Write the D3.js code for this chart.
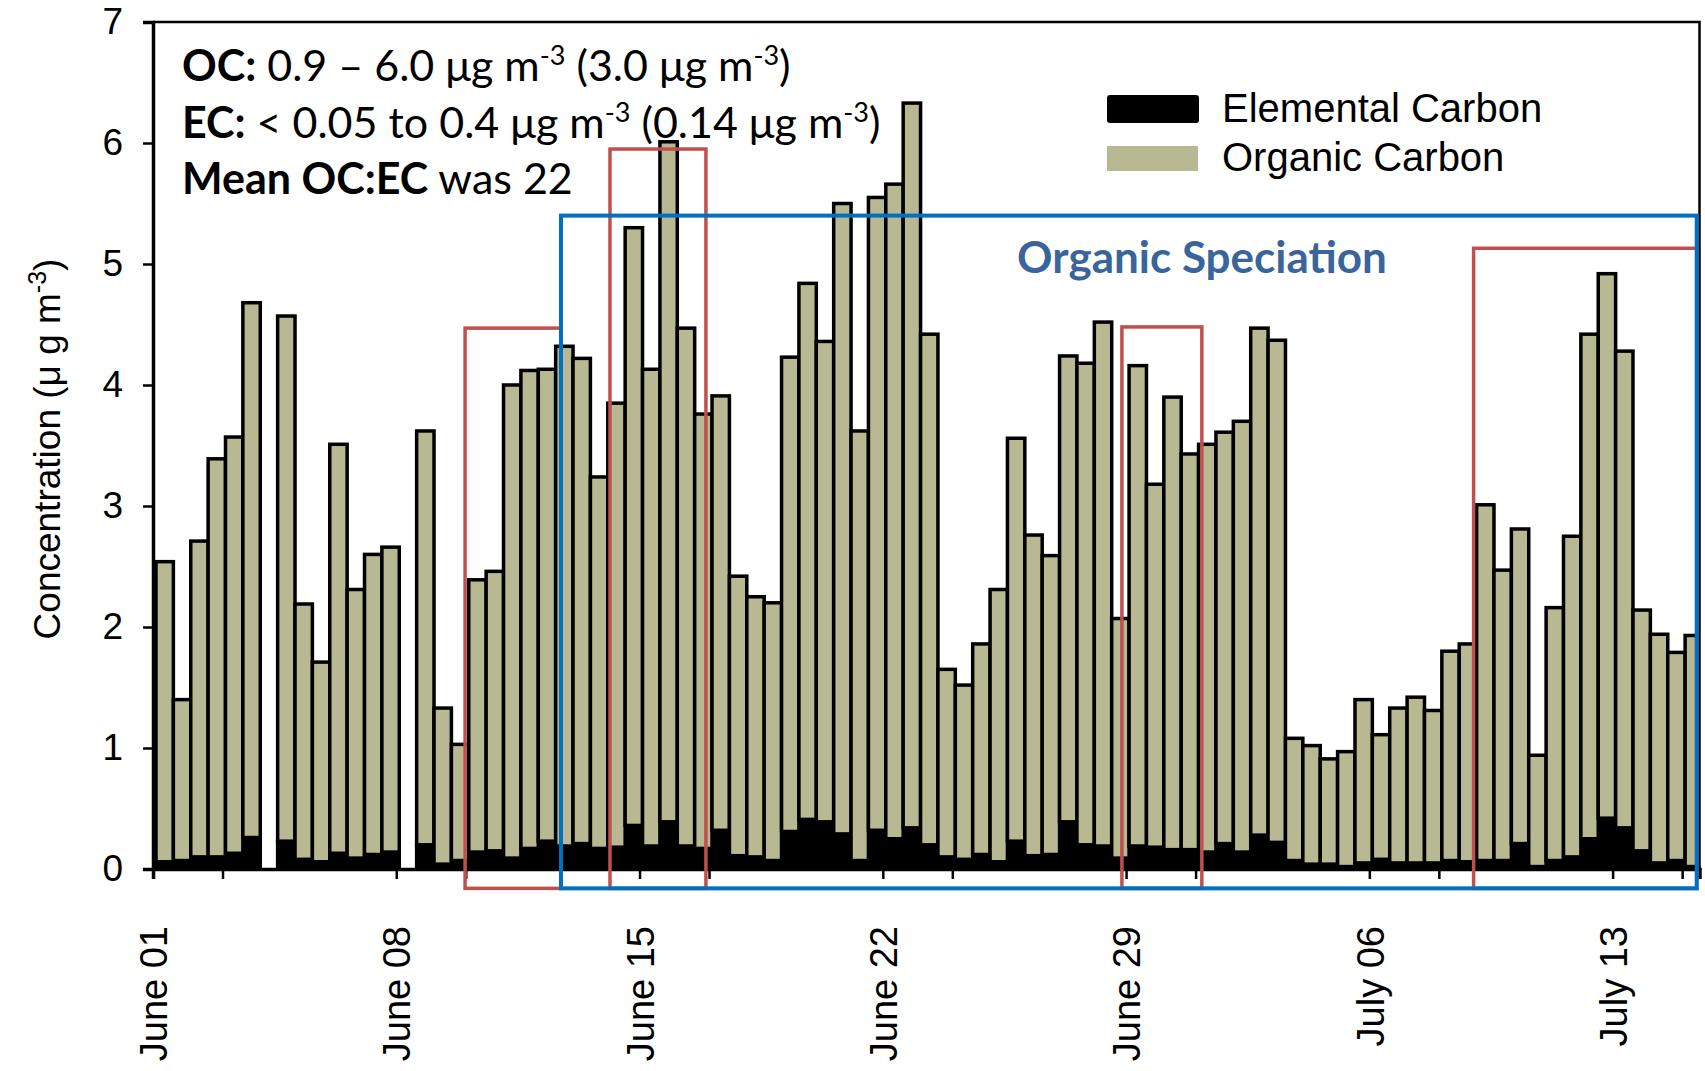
<!DOCTYPE html>
<html>
<head>
<meta charset="utf-8">
<script src="https://cdn.jsdelivr.net/npm/d3@7"></script>
<style>
  body { margin: 0; background: #fff; }
</style>
</head>
<body>
<div id="chart"></div>
<script>
// Carbon concentrations, half-day samples from June 01 (null = no sample)

const ec = [0.06, 0.07, 0.10, 0.10, 0.13, 0.26, null, 0.23, 0.08, 0.06,
            0.13, 0.09, 0.12, 0.14, null, 0.20, 0.04, 0.07, 0.14, 0.15,
            0.09, 0.17, 0.23, 0.19, 0.21, 0.17, 0.18, 0.36, 0.19, 0.39,
            0.19, 0.17, 0.32, 0.11, 0.10, 0.07, 0.31, 0.41, 0.39, 0.29,
            0.07, 0.32, 0.25, 0.34, 0.20, 0.10, 0.08, 0.12, 0.06, 0.23,
            0.11, 0.12, 0.39, 0.20, 0.19, 0.09, 0.19, 0.18, 0.16, 0.16,
            0.14, 0.21, 0.14, 0.28, 0.22, 0.07, 0.04, 0.04, 0.02, 0.05,
            0.08, 0.05, 0.05, 0.05, 0.07, 0.06, 0.07, 0.07, 0.21, 0.02,
            0.07, 0.10, 0.25, 0.42, 0.34, 0.15, 0.05, 0.07, 0.02];

const oc = [2.48, 1.33, 2.61, 3.29, 3.44, 4.42, null, 4.34, 2.11, 1.65,
            3.38, 2.22, 2.48, 2.52, null, 3.42, 1.29, 0.96, 2.25, 2.31,
            3.91, 3.95, 3.90, 4.13, 4.01, 3.07, 3.67, 4.94, 3.94, 5.62,
            4.28, 3.59, 3.59, 2.31, 2.15, 2.13, 3.92, 4.43, 3.97, 5.21,
            3.55, 5.23, 5.41, 5.99, 4.22, 1.55, 1.44, 1.74, 2.25, 3.33,
            2.65, 2.47, 3.85, 3.98, 4.33, 1.98, 3.97, 3.00, 3.74, 3.27,
            3.37, 3.40, 3.56, 4.19, 4.15, 1.01, 0.98, 0.87, 0.95, 1.35,
            1.03, 1.28, 1.37, 1.26, 1.73, 1.80, 2.94, 2.40, 2.60, 0.92,
            2.09, 2.65, 4.17, 4.50, 3.94, 1.99, 1.89, 1.72, 1.91];

const tickDays = [0, 2, 7, 9, 14, 16, 21, 23, 28, 30, 35, 37, 42, 44];
const labelDays = [0, 7, 14, 21, 28, 35, 42];
const dayLabels = ["June 01", "June 08", "June 15", "June 22", "June 29", "July 06", "July 13"];
const yTicks = [0, 1, 2, 3, 4, 5, 6, 7];

// highlighted periods: [start day, end day, top concentration]
const redBoxes = [[8.98, 11.74, 4.47], [13.15, 15.91, 5.95], [27.88, 30.18, 4.48], [38.0, 44.42, 5.13]];
const blueBox = [11.74, 44.42, 5.40];
const boxBottom = -0.16;

const width = 1705,
      height = 1071,
      margin = ({ top: 22, right: 5.5, bottom: 202, left: 153 });

const ocColor = "#b8b892",
      redColor = "#c0504d",
      blueColor = "#0070c0";

let svg = d3.select("#chart")
    .append("svg")
    .attr("width", width)
    .attr("height", height);

let x = d3.scaleLinear()
    .domain([0, ec.length / 2])
    .range([margin.left, width - margin.right]);

let y = d3.scaleLinear()
    .domain([0, 7])
    .range([height - margin.bottom, margin.top]);

let rows = d3.range(ec.length)
    .filter(i => ec[i] !== null)
    .map(i => ({ day: i / 2, ec: ec[i], oc: oc[i] }));

let series = d3.stack().keys(["ec", "oc"])(rows);
let slot = x(0.5) - x(0);

svg.append("clipPath").attr("id", "plot-clip")
    .append("rect")
    .attr("x", margin.left)
    .attr("y", margin.top)
    .attr("width", width - margin.right - margin.left)
    .attr("height", height - margin.bottom - margin.top);

// stacked bars
svg.append("g")
    .attr("clip-path", "url(#plot-clip)")
  .append("g")
    .attr("transform", "translate(3,0)")
    .selectAll("g")
    .data(series)
    .join("g")
    .attr("fill", d => d.key === "ec" ? "#000" : ocColor)
    .selectAll("rect")
    .data(d => d)
    .join("rect")
    .attr("x", d => x(d.data.day))
    .attr("width", slot)
    .attr("y", d => y(d[1]))
    .attr("height", d => y(d[0]) - y(d[1]))
    .attr("stroke", "#000")
    .attr("stroke-width", 3.5);

// frame top/right
svg.append("path")
    .attr("d", `M${margin.left},${margin.top}H${width - margin.right}V${height - margin.bottom}`)
    .attr("fill", "none")
    .attr("stroke", "#000")
    .attr("stroke-width", 2.5);

// axes
let yAxis = svg.append("g")
    .attr("transform", `translate(${margin.left},0)`)
    .call(d3.axisLeft(y).tickValues(yTicks).tickSize(10).tickPadding(20).tickFormat(d3.format("d")));

let xAxis = svg.append("g")
    .attr("transform", `translate(0,${height - margin.bottom})`)
    .call(d3.axisBottom(x).tickValues(tickDays).tickSize(10)
        .tickFormat(d => labelDays.includes(d) ? dayLabels[labelDays.indexOf(d)] : ""));

for (let ax of [yAxis, xAxis]) {
    ax.select(".domain").attr("stroke", "#000").attr("stroke-width", 3.5);
    ax.selectAll(".tick line").attr("stroke", "#000").attr("stroke-width", 2.5);
    ax.selectAll("text")
        .attr("fill", "#000")
        .style("font-family", "Liberation Sans, Arial, sans-serif")
        .style("font-size", "37px");
}

xAxis.selectAll(".tick text")
    .style("font-size", "38px")
    .attr("transform", "rotate(-90)")
    .attr("text-anchor", "end")
    .attr("x", -57)
    .attr("y", 0)
    .attr("dy", "0.36em");

// y axis title
let yTitle = svg.append("text")
    .attr("transform", "translate(47,449) rotate(-90)")
    .attr("text-anchor", "middle")
    .attr("dy", "0.35em")
    .style("font-family", "Liberation Sans, Arial, sans-serif")
    .style("font-size", "37px");
yTitle.append("tspan").text("Concentration (μ g m");
yTitle.append("tspan").attr("baseline-shift", "super").style("font-size", "25px").text("-3");
yTitle.append("tspan").text(")");

// highlight boxes
svg.append("g")
    .selectAll("rect")
    .data(redBoxes)
    .join("rect")
    .attr("x", d => x(d[0]))
    .attr("width", d => x(d[1]) - x(d[0]))
    .attr("y", d => y(d[2]))
    .attr("height", d => y(boxBottom) - y(d[2]))
    .attr("fill", "none")
    .attr("stroke", redColor)
    .attr("stroke-width", 3.5);

svg.append("rect")
    .attr("x", x(blueBox[0]))
    .attr("width", x(blueBox[1]) - x(blueBox[0]))
    .attr("y", y(blueBox[2]))
    .attr("height", y(boxBottom) - y(blueBox[2]))
    .attr("fill", "none")
    .attr("stroke", blueColor)
    .attr("stroke-width", 4);

svg.append("text")
    .attr("x", x(blueBox[0]) + 641)
    .attr("y", y(blueBox[2]) + 57)
    .attr("text-anchor", "middle")
    .attr("fill", "#3a659a")
    .style("font-family", "Lato, sans-serif")
    .style("font-weight", "bold")
    .style("font-size", "44px")
    .text("Organic Speciation");

// legend
let legend = svg.append("g")
    .attr("transform", "translate(1107,95)")
    .style("font-family", "Liberation Sans, Arial, sans-serif")
    .style("font-size", "40px");

legend.append("rect").attr("width", 92).attr("height", 28).attr("rx", 3).attr("fill", "#000");
legend.append("rect").attr("y", 51).attr("width", 91).attr("height", 25).attr("fill", ocColor);
legend.append("text").attr("x", 115).attr("y", 27).text("Elemental Carbon");
legend.append("text").attr("x", 115).attr("y", 76).text("Organic Carbon");

// summary text
const notes = [
    [["OC:", true], [" 0.9 – 6.0 μg m", false], ["-3", false, true], [" (3.0 μg m", false], ["-3", false, true], [")", false]],
    [["EC:", true], [" < 0.05 to 0.4 μg m", false], ["-3", false, true], [" (0.14 μg m", false], ["-3", false, true], [")", false]],
    [["Mean OC:EC", true], [" was 22", false]]
];

let noteText = svg.append("g")
    .style("font-family", "Lato, sans-serif")
    .style("font-size", "43px");

notes.forEach((line, i) => {
    let t = noteText.append("text")
        .attr("x", 182)
        .attr("y", 81 + i * 56.5)
        .attr("xml:space", "preserve");
    for (let [str, bold, sup] of line) {
        t.append("tspan")
            .attr("baseline-shift", sup ? "super" : null)
            .style("font-weight", bold ? "bold" : "normal")
            .style("font-size", sup ? "27px" : null)
            .text(str);
    }
});
</script>
</body>
</html>
